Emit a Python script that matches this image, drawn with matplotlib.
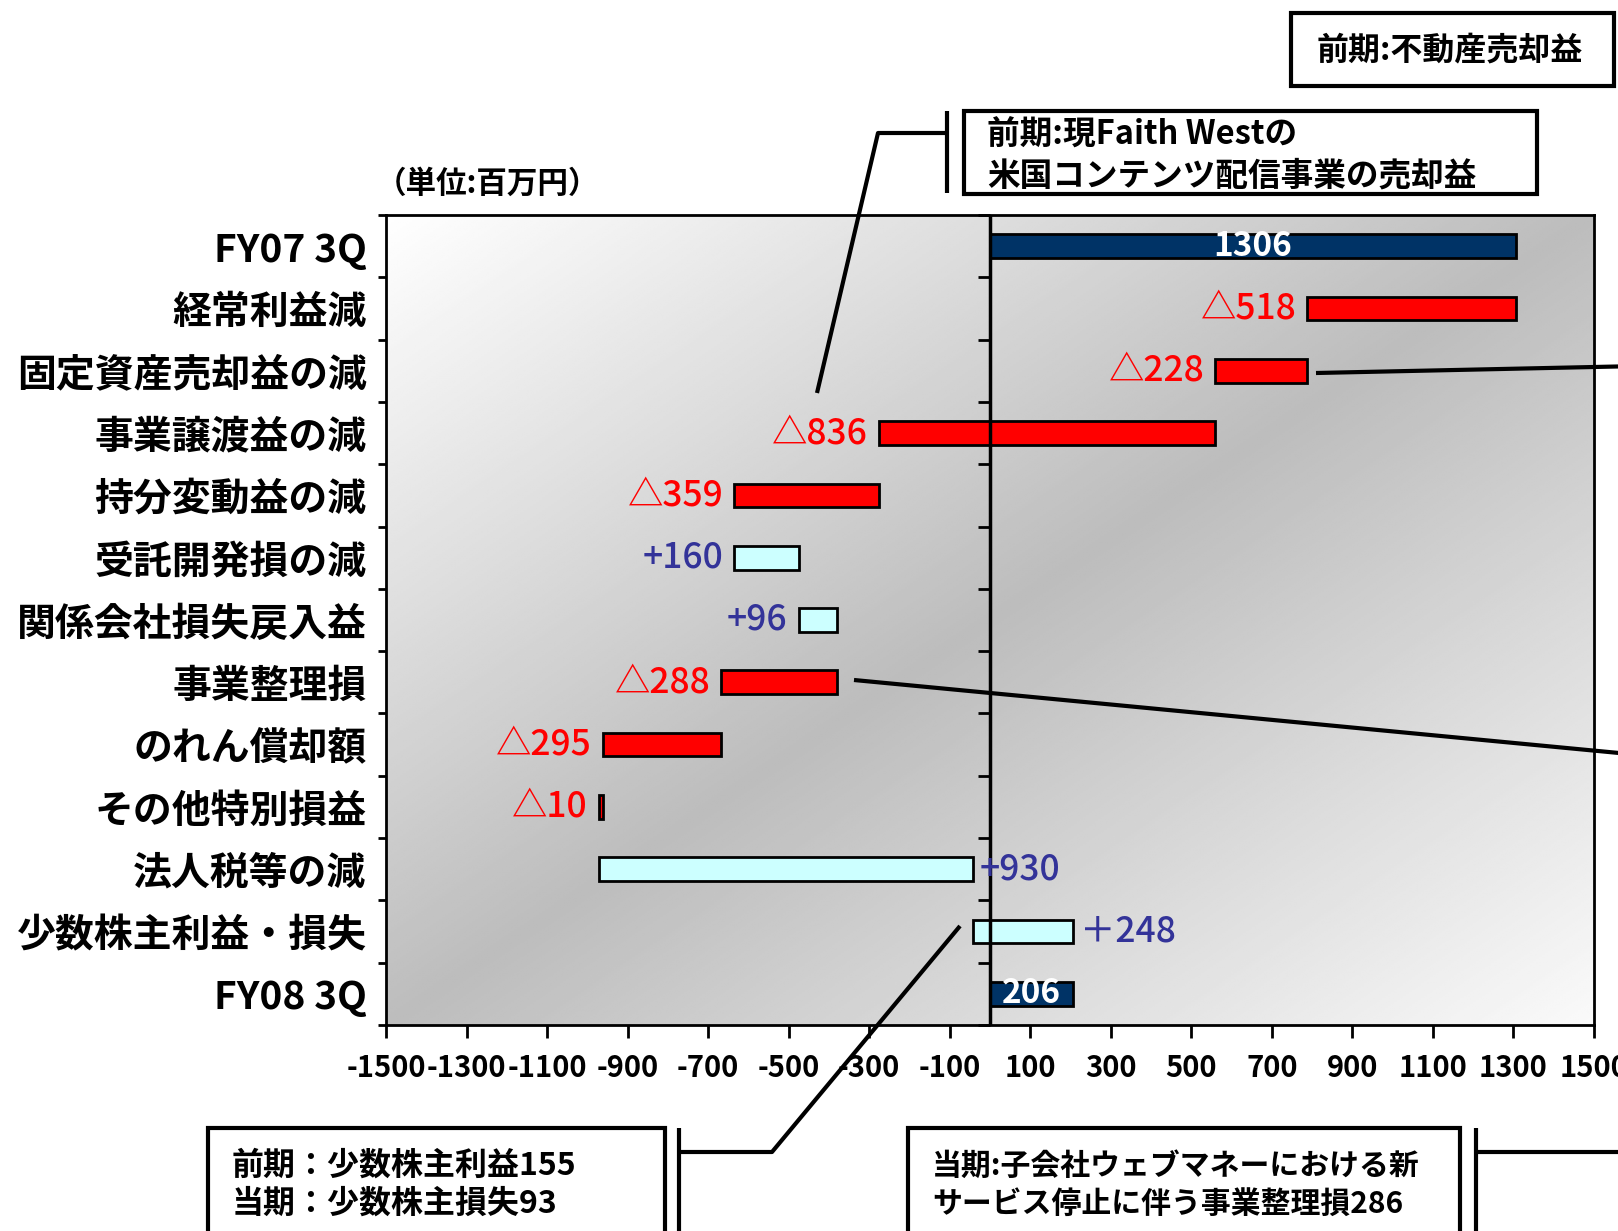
import numpy as np
import matplotlib
matplotlib.use("Agg")
import matplotlib.pyplot as plt
from matplotlib.patches import Rectangle
from matplotlib.lines import Line2D

# --- data (単位:百万円) ---
categories = ["FY07 3Q", "経常利益減", "固定資産売却益の減", "事業譲渡益の減", "持分変動益の減",
              "受託開発損の減", "関係会社損失戻入益", "事業整理損", "のれん償却額", "その他特別損益",
              "法人税等の減", "少数株主利益・損失", "FY08 3Q"]
start_total = 1306
end_total = 206
changes = [-518, -228, -836, -359, 160, 96, -288, -295, -10, 930, 248]
change_labels = ["△518", "△228", "△836", "△359", "+160", "+96", "△288",
                 "△295", "△10", "+930", "＋248"]
x_ticks = list(range(-1500, 1501, 200))

# label placement for the change bars (left / right of the bar)
label_side = ["left"] * 9 + ["right", "right"]

JP = "Noto Sans CJK JP"
FAMS = [JP, "DejaVu Sans"]
plt.rcParams["font.family"] = FAMS

NAVY = "#003366"
RED = "#FF0000"
CYAN = "#CCFFFF"
BLUE_TXT = "#333399"

W, H = 1618, 1231
fig = plt.figure(figsize=(W / 100, H / 100), dpi=100)
ax = fig.add_axes([386 / W, 1 - 1025 / H, 1208 / W, 810 / H])

# diagonal gradient background (white -> gray -> near white)
g = np.linspace(0, 1, 400)
xx, yy = np.meshgrid(g, g)
t = (xx + yy) / 2
shade = np.interp(t, [0, 0.5, 1], [1.0, 0.74, 0.98])
ax.imshow(shade, extent=(0, 1, 0, 1), transform=ax.transAxes, cmap="gray",
          vmin=0, vmax=1, aspect="auto", zorder=0, interpolation="bilinear")

# waterfall geometry
lefts = [0]
widths = [start_total]
colors = [NAVY]
running = start_total
for c in changes:
    lefts.append(min(running, running + c))
    widths.append(abs(c))
    colors.append(RED if c < 0 else CYAN)
    running += c
lefts.append(0)
widths.append(end_total)
colors.append(NAVY)

y = np.arange(len(categories))
ax.barh(y, widths, left=lefts, height=0.38, color=colors, edgecolor="black",
        linewidth=2, zorder=3)

# total labels inside the navy bars
for i, val in [(0, start_total), (len(categories) - 1, end_total)]:
    ax.text(lefts[i] + widths[i] / 2, i, str(val), color="white", fontsize=24,
            weight="bold", ha="center", va="center", zorder=5)

for k, (lab, side) in enumerate(zip(change_labels, label_side)):
    i = k + 1
    col = RED if changes[k] < 0 else BLUE_TXT
    if side == "left":
        xy, off, ha = (lefts[i], i), (-8, 0), "right"
    else:
        xy, off, ha = (lefts[i] + widths[i], i), (5, 0), "left"
    ax.annotate(lab, xy=xy, xytext=off, textcoords="offset points", ha=ha, va="center",
                color=col, fontsize=25.5, weight="medium", zorder=5)

# zero line with its own tick marks
ax.axvline(0, color="black", lw=2.5, zorder=4)
bounds = np.arange(-0.5, len(categories), 1)
ax.plot(np.zeros(len(bounds)), bounds, ls="none", marker=0, markersize=9,
        markeredgewidth=2, color="black", zorder=4, clip_on=False)

ax.set_xlim(-1500, 1500)
ax.set_ylim(len(categories) - 0.5, -0.5)
ax.set_xticks(x_ticks)
ax.set_xticklabels([str(v) for v in x_ticks], fontsize=21, weight="bold")
ax.set_yticks(y)
ax.set_yticklabels(categories, fontsize=28, weight="bold")
ax.set_yticks(bounds, minor=True)
ax.tick_params(axis="y", which="major", length=0, pad=14)
ax.tick_params(axis="y", which="minor", length=6, width=2, direction="out")
ax.tick_params(axis="x", length=9, width=2, direction="out", pad=11)
for s in ax.spines.values():
    s.set_linewidth(2)

fig.text(376 / W, 1 - 184 / H, "（単位:百万円）", fontsize=22, weight="bold",
         ha="left", va="center")


# --- callout boxes and leader lines (figure pixel coords) ---
def px(x, yv):
    return x / W, 1 - yv / H


def box(x0, y0, x1, y1):
    fig.add_artist(Rectangle(px(x0, y1), (x1 - x0) / W, (y1 - y0) / H, fill=True,
                             facecolor="white", edgecolor="black", lw=3,
                             transform=fig.transFigure, zorder=6, clip_on=False))


def line(pts, lw=3):
    xs = [p[0] / W for p in pts]
    ys = [1 - p[1] / H for p in pts]
    fig.add_artist(Line2D(xs, ys, color="black", lw=lw, transform=fig.transFigure,
                          zorder=7, solid_capstyle="butt"))


box(1291, 13, 1614, 86)
fig.text(*px(1450, 50), "前期:不動産売却益", fontsize=23, weight="bold",
         ha="center", va="center", zorder=8)
line([(1316, 373), (1640, 366)])

box(964, 111, 1537, 194)
fig.text(*px(987, 135), "前期:現Faith Westの", fontsize=23.5, weight="bold",
         ha="left", va="center", zorder=8)
fig.text(*px(987, 176), "米国コンテンツ配信事業の売却益", fontsize=23.5, weight="bold",
         ha="left", va="center", zorder=8)
line([(947, 111), (947, 193)])
line([(817, 393), (878, 133), (947, 133)])

box(208, 1128, 665, 1250)
fig.text(*px(232, 1166), "前期：少数株主利益155", fontsize=23, weight="bold",
         ha="left", va="center", zorder=8)
fig.text(*px(232, 1204), "当期：少数株主損失93", fontsize=23, weight="bold",
         ha="left", va="center", zorder=8)
line([(679, 1128), (679, 1240)])
line([(960, 926), (772, 1152), (679, 1152)])

box(908, 1128, 1460, 1250)
fig.text(*px(932, 1166), "当期:子会社ウェブマネーにおける新", fontsize=21.5, weight="bold",
         ha="left", va="center", zorder=8)
fig.text(*px(932, 1204), "サービス停止に伴う事業整理損286", fontsize=21.5, weight="bold",
         ha="left", va="center", zorder=8)
line([(1476, 1128), (1476, 1240)])
line([(1476, 1152), (1640, 1152)])
line([(854, 680), (1640, 755)])

fig.savefig("out.png", dpi=100)
